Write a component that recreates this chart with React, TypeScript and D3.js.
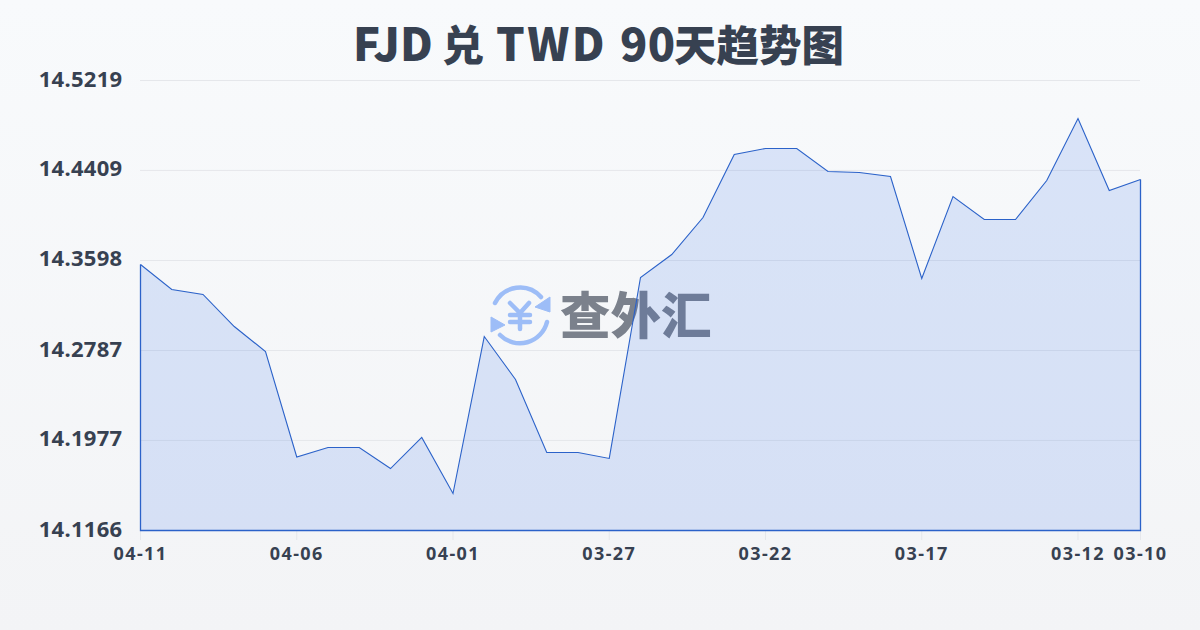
import React from "react";
import * as d3 from "d3";

const dates = ["04-11","04-10","04-09","04-08","04-07","04-06","04-05","04-04","04-03","04-02","04-01","03-31","03-30","03-29","03-28","03-27","03-26","03-25","03-24","03-23","03-22","03-21","03-20","03-19","03-18","03-17","03-16","03-15","03-14","03-13","03-12","03-11","03-10"];
const rates = [14.3562,14.3337,14.3292,14.3003,14.2778,14.1828,14.1914,14.1914,14.1724,14.2004,14.1499,14.2913,14.2526,14.1869,14.1869,14.1815,14.3445,14.3652,14.3985,14.4553,14.4607,14.4607,14.4399,14.4390,14.4354,14.3436,14.4174,14.3967,14.3967,14.4318,14.4877,14.4228,14.4327];
const yTicks = [14.1166,14.1977,14.2787,14.3598,14.4409,14.5219];
const xTickDates = ["04-11","04-06","04-01","03-27","03-22","03-17","03-12","03-10"];
const titleParts: [string, number, number, number][] = [["FJD",353,45,0.2],["兑",442,42,0],["TWD",496,45,2.4],["90",620,45,0.4],["天趋势图",674,42.5,0]];
const logoText = "查外汇";

const CJK = "'Noto Sans CJK SC', sans-serif";
const FONT = "'Noto Sans', 'Noto Sans CJK SC', sans-serif";
const INK = "#374151";
const BLUE = "#9dbdf7";
const W = 1200, H = 630;
const x = d3.scalePoint<string>().domain(dates).range([140, 1140]);
const y = d3.scaleLinear().domain([14.1166, 14.5219]).range([530, 80]);
const lineGen = d3.line<number>().x((_, i) => x(dates[i])!).y(d => y(d));
const areaGen = d3.area<number>().x((_, i) => x(dates[i])!).y0(530).y1(d => y(d));

export default function App() {
  return (
    <svg width={W} height={H} viewBox={`0 0 ${W} ${H}`} style={{ position: "fixed", left: 0, top: 0, display: "block" }}>
      <defs>
        <linearGradient id="bg" x1="0" y1="0" x2="0" y2="1">
          <stop offset="0" stopColor="#f8fafc" />
          <stop offset="1" stopColor="#f3f4f6" />
        </linearGradient>
      </defs>
      <rect width={W} height={H} fill="url(#bg)" />
      {titleParts.map(([s, px, size, ls]) => (
        <text key={s} x={px} y={61} fontFamily={CJK} fontSize={size} fontWeight={900} fill={INK} letterSpacing={ls}>{s}</text>
      ))}

      {yTicks.map(t => (
        <g key={t}>
          {t !== yTicks[0] && <line x1={140} x2={1140} y1={y(t) + 0.5} y2={y(t) + 0.5} stroke="#e5e7eb" strokeWidth={1} />}
          <text x={122.5} y={y(t) + 6.5} textAnchor="end" fontFamily={FONT} fontSize={22} fontWeight={700} letterSpacing={0.3} fill={INK}>{t.toFixed(4)}</text>
        </g>
      ))}
      {xTickDates.map(d => (
        <g key={d}>
          <line x1={x(d)! + 0.5} x2={x(d)! + 0.5} y1={530} y2={540} stroke="#e5e7eb" strokeWidth={1} />
          <text x={x(d)! + 0.5} y={560} textAnchor="middle" fontFamily={FONT} fontSize={18} fontWeight={700} letterSpacing={1.4} fill={INK}>{d}</text>
        </g>
      ))}

      <g>
        <g fill="none" stroke={BLUE} strokeWidth={4.5} strokeLinecap="round">
          <path d="M495 303 A28 28 0 0 1 541 297" />
          <path d="M547 322 A28 28 0 0 1 500 335" />
          <path d="M510 303 L520 313 L529 303 M520 313 V329 M510 315 H530 M510 322 H530" />
        </g>
        <path d="M550 297 L550 312 L535 307 Z" fill={BLUE} stroke={BLUE} strokeLinejoin="round" />
        <path d="M491 317 L491 332 L505 325 Z" fill={BLUE} stroke={BLUE} strokeLinejoin="round" />
        <text x={560} y={334} fontFamily={CJK} fontSize={50.5} fontWeight={900} fill="#7b818c">{logoText}</text>
      </g>

      <g transform="translate(0.5,0.5)">
        <path d={areaGen(rates)!} fill="#2563eb" fillOpacity={0.14} />
        <path d={`M${x(dates[0])} ${y(rates[0])}V530H${x(dates[dates.length - 1])}V${y(rates[rates.length - 1])}`} fill="none" stroke="#2b62c9" strokeWidth={1.3} />
        <path d={lineGen(rates)!} fill="none" stroke="#2b62c9" strokeWidth={1.1} />
      </g>
    </svg>
  );
}
